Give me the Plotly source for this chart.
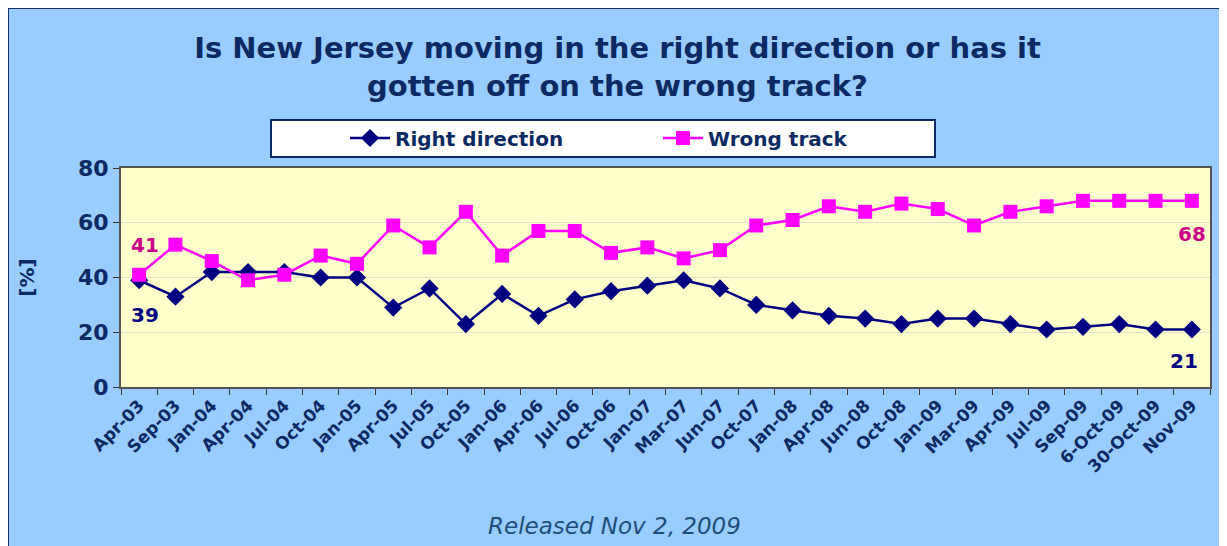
import plotly.graph_objects as go

# survey waves
categories = ["Apr-03", "Sep-03", "Jan-04", "Apr-04", "Jul-04", "Oct-04", "Jan-05", "Apr-05",
              "Jul-05", "Oct-05", "Jan-06", "Apr-06", "Jul-06", "Oct-06", "Jan-07", "Mar-07",
              "Jun-07", "Oct-07", "Jan-08", "Apr-08", "Jun-08", "Oct-08", "Jan-09", "Mar-09",
              "Apr-09", "Jul-09", "Sep-09", "6-Oct-09", "30-Oct-09", "Nov-09"]
right_direction = [39, 33, 42, 42, 42, 40, 40, 29, 36, 23, 34, 26, 32, 35, 37, 39,
                   36, 30, 28, 26, 25, 23, 25, 25, 23, 21, 22, 23, 21, 21]
wrong_track = [41, 52, 46, 39, 41, 48, 45, 59, 51, 64, 48, 57, 57, 49, 51, 47,
               50, 59, 61, 66, 64, 67, 65, 59, 64, 66, 68, 68, 68, 68]
y_ticks = [0, 20, 40, 60, 80]

NAVY = "#0B2A63"
OFF = 8  # page body margin
W, H = 1227 - OFF, 546 - OFF
L, R, T, B = 121 - OFF, 17, 168 - OFF, 159
PW, PH = W - L - R, H - T - B


# screen pixel -> paper coords
def px_x(x):
    return (x - OFF - L) / PW


def px_y(y):
    return (H - B - (y - OFF)) / PH


fig = go.Figure()

fig.add_trace(go.Scatter(
    x=categories, y=right_direction, name="Right direction",
    mode="lines+markers",
    line=dict(color="#000080", width=2.5),
    marker=dict(symbol="diamond", size=14, color="#000080"),
))
fig.add_trace(go.Scatter(
    x=categories, y=wrong_track, name="Wrong track",
    mode="lines+markers",
    line=dict(color="#FF00FF", width=2.5),
    marker=dict(symbol="square", size=14, color="#FF00FF"),
))

# end labels
pink_font = dict(family="DejaVu Sans", size=20, color="#CC0088", weight="bold")
navy_font = dict(family="DejaVu Sans", size=20, color="#000080", weight="bold")
fig.add_annotation(x=categories[0], y=wrong_track[0], text=str(wrong_track[0]),
                   showarrow=False, yshift=30, xshift=6, font=pink_font)
fig.add_annotation(x=categories[-1], y=wrong_track[-1], text=str(wrong_track[-1]),
                   showarrow=False, yshift=-33, xshift=0, font=pink_font)
fig.add_annotation(x=categories[0], y=right_direction[0], text=str(right_direction[0]),
                   showarrow=False, yshift=-35, xshift=6, font=navy_font)
fig.add_annotation(x=categories[-1], y=right_direction[-1], text=str(right_direction[-1]),
                   showarrow=False, yshift=-31, xshift=-8, font=navy_font)

# footer
fig.add_annotation(xref="paper", yref="paper", x=px_x(614), y=px_y(526),
                   xanchor="center", yanchor="middle",
                   text="<i>Released Nov 2, 2009</i>", showarrow=False,
                   font=dict(family="DejaVu Sans", size=23, color="#1F4E79"))

# chart border and legend box
fig.add_shape(type="rect", xref="paper", yref="paper", layer="below",
              x0=px_x(OFF), x1=px_x(W + OFF + 5), y0=px_y(H + OFF + 5), y1=px_y(OFF),
              line=dict(color="#1B2F5E", width=2))
fig.add_shape(type="rect", xref="paper", yref="paper", layer="below",
              x0=px_x(271), x1=px_x(935), y0=px_y(157), y1=px_y(120),
              fillcolor="white", line=dict(color=NAVY, width=2))

fig.update_layout(
    width=W, height=H,
    margin=dict(l=L, r=R, t=T, b=B),
    paper_bgcolor="#99CCFF",
    plot_bgcolor="#FFFFCC",
    title=dict(
        text="Is New Jersey moving in the right direction or has it<br>gotten off on the wrong track?",
        x=0.5, xanchor="center", y=1 - 50 / H, yanchor="top",
        font=dict(family="DejaVu Sans", size=29, color=NAVY, weight="bold"),
    ),
    legend=dict(
        orientation="h", x=px_x(345), xanchor="left", y=px_y(138), yanchor="middle",
        bgcolor="rgba(0,0,0,0)", borderwidth=0,
        font=dict(family="DejaVu Sans", size=20, color=NAVY, weight="bold"),
        entrywidth=258, itemwidth=40,
    ),
    xaxis=dict(
        type="category", tickson="boundaries", ticks="outside", ticklen=6,
        tickcolor="#333333", tickangle=-45,
        tickfont=dict(family="DejaVu Sans", size=17, color=NAVY, weight="bold"),
        showline=True, linecolor="#555555", linewidth=2, mirror=True,
        showgrid=False, range=[-0.5, len(categories) - 0.5],
    ),
    yaxis=dict(
        range=[0, 80], tickvals=y_ticks, ticks="outside", ticklen=6, tickcolor="#333333",
        tickfont=dict(family="DejaVu Sans", size=22, color=NAVY, weight="bold"),
        showline=True, linecolor="#555555", linewidth=2, mirror=True,
        gridcolor="#E0E0CC", gridwidth=1, zeroline=False,
        title=dict(text="[%]", standoff=38,
                   font=dict(family="DejaVu Sans", size=20, color=NAVY, weight="bold")),
    ),
)

fig.write_html("out.html")
